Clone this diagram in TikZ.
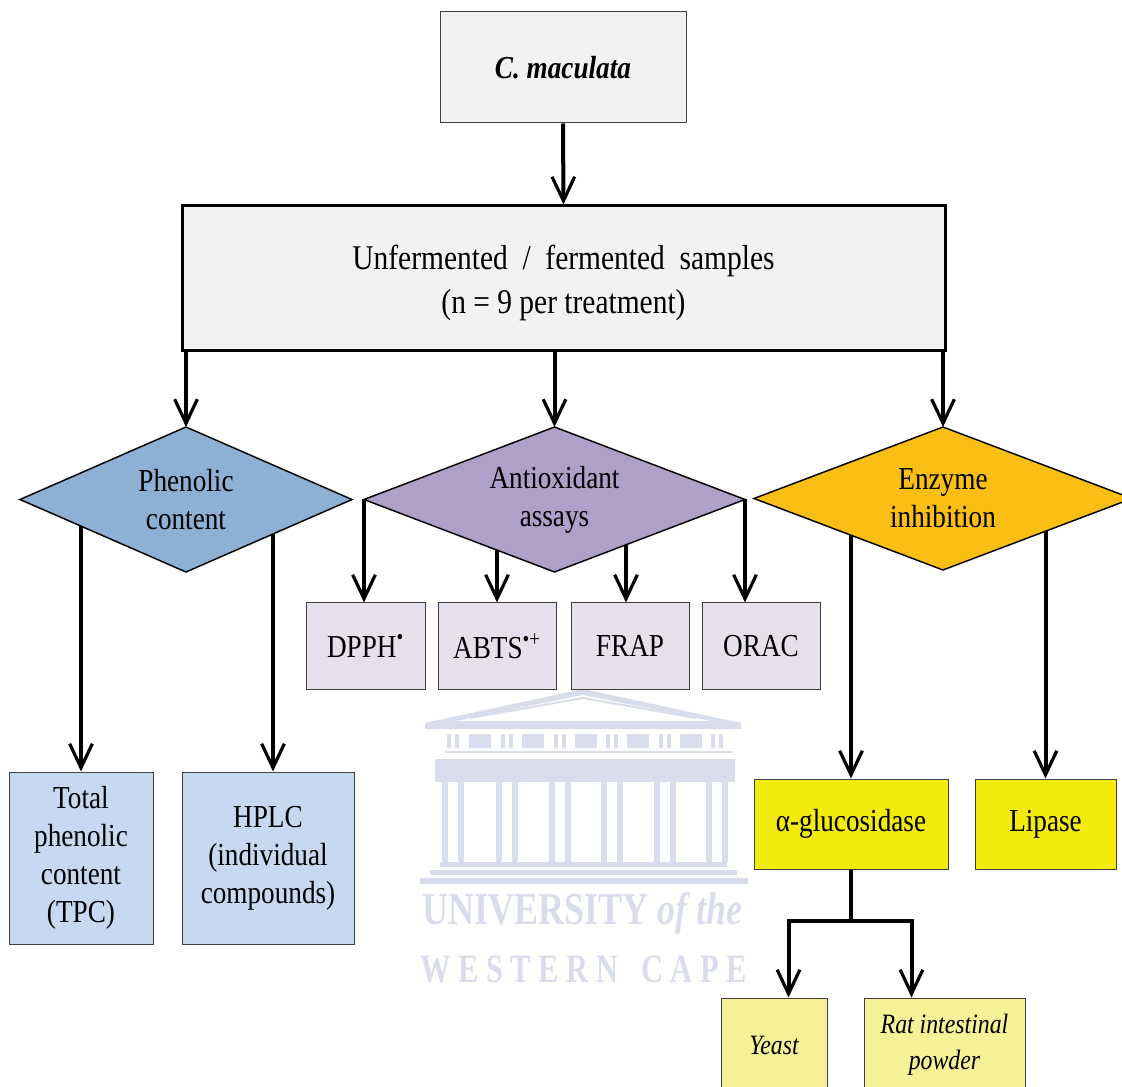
\documentclass[tikz,border=0pt]{standalone}
\usepackage{fontspec}
\setmainfont{Liberation Serif}[FakeStretch=0.85]
\newfontfamily\wmfont{Liberation Serif}
\usetikzlibrary{shapes.geometric,arrows.meta,calc}
\pgfdeclarelayer{wm}
\pgfdeclarelayer{bg}
\pgfsetlayers{wm,bg,main}
\definecolor{grayfill}{HTML}{F2F2F2}
\definecolor{boxline}{HTML}{404040}
\definecolor{phenc}{HTML}{8DB0D5}
\definecolor{antic}{HTML}{AFA0C8}
\definecolor{enzc}{HTML}{FABE14}
\definecolor{lblue}{HTML}{C6D9F0}
\definecolor{lpurple}{HTML}{E5E0EC}
\definecolor{yel}{HTML}{F3EA0E}
\definecolor{pyel}{HTML}{F6F096}
\definecolor{wmc}{HTML}{D8DCEC}
\begin{document}
\begin{tikzpicture}[x=0.75pt,y=-0.75pt,
  txt/.style={font=\fontsize{24pt}{28.5pt}\selectfont, align=center, inner sep=0pt},
  box/.style={txt, draw=boxline, line width=0.75pt},
  dia/.style={txt, diamond, shape aspect=2.6, draw=black, line width=1.1pt, inner sep=0pt, outer sep=0pt},
  arr/.style={line width=3pt, -{Straight Barb[length=18pt,width=17pt,line width=2.4pt]}},
  conn/.style={line width=3pt, line join=miter}
]
\useasboundingbox (0,0) rectangle (1122,1087);
\clip (0,0) rectangle (1122,1087);

% watermark
\begin{pgfonlayer}{wm}
  \fill[wmc] (425,723) -- (583,689) -- (741,723) -- (741,729) -- (425,729) -- cycle;
  \fill[white] (455,721) -- (583,695) -- (711,721) -- cycle;
  \draw[wmc, line width=1.5pt] (470,718) -- (583,698) -- (696,718);
  \foreach \cx in {453,507,560,612,665,717}{
    \fill[wmc] (\cx-6,734) rectangle (\cx-2,748);
    \fill[wmc] (\cx+2,734) rectangle (\cx+6,748);
  }
  \foreach \cx in {480,533,586,638,691}{
    \fill[wmc] (\cx-11,734) rectangle (\cx+11,748);
  }
  \draw[wmc, line width=1.2pt] (445,752) -- (732,752);
  \fill[wmc] (435,759) rectangle (735,782);
  \foreach \cx in {453,507,560,612,665,717}{
    \fill[wmc] (\cx-11,782) rectangle (\cx-5,862);
    \fill[wmc] (\cx+5,782) rectangle (\cx+11,862);
  }
  \fill[wmc] (440,862) rectangle (727,867);
  \fill[wmc] (430,870) rectangle (737,875);
  \fill[wmc] (420,878) rectangle (748,884);
  \node[anchor=south west, inner sep=0pt, text=wmc] (wm1) at (422,934)
    {\resizebox{240pt}{24pt}{\wmfont\bfseries UNIVERSITY \textit{of the}}};
  \node[anchor=south west, inner sep=0pt, text=wmc] (wm2) at (420,983)
    {\resizebox{245pt}{20pt}{\wmfont\bfseries W E S T E R N \ \ C A P E}};
\end{pgfonlayer}

% nodes
\node[box, fill=grayfill, minimum width=184.5pt, minimum height=83.25pt] (cm) at (563,67.5)
  {\textbf{\textit{C. maculata}}};
\node[box, fill=grayfill, draw=black, line width=2.25pt, minimum width=572.25pt, minimum height=108.75pt,
  font=\fontsize{26pt}{33pt}\selectfont] (big) at (563.5,278.5)
  {\raisebox{-3pt}[\height][\depth]{\parbox{500pt}{\centering Unfermented \ / \ fermented \ samples\\(n = 9 per treatment)}}};

\node[dia, fill=phenc, minimum width=249pt, minimum height=108.75pt] (phen) at (186,499.5)
  {Phenolic\\content};
\node[dia, fill=antic, minimum width=285.75pt, minimum height=108.75pt] (anti) at (554.5,499.5)
  {Antioxidant\\assays};
\node[dia, fill=enzc, minimum width=283.5pt, minimum height=107.25pt] (enz) at (943,498.5)
  {Enzyme\\inhibition};

\node[box, fill=lpurple, minimum width=89.25pt, minimum height=64.5pt] (dpph) at (365.5,646)
  {DPPH\textsuperscript{•}};
\node[box, fill=lpurple, minimum width=88.5pt, minimum height=64.5pt] (abts) at (497,646)
  {ABTS\textsuperscript{•+}};
\node[box, fill=lpurple, minimum width=88.5pt, minimum height=64.5pt] (frap) at (630,646)
  {FRAP};
\node[box, fill=lpurple, minimum width=88.5pt, minimum height=64.5pt] (orac) at (761,646)
  {ORAC};

\node[box, fill=lblue, minimum width=108pt, minimum height=129pt] (tpc) at (81,858)
  {Total\\phenolic\\content\\(TPC)};
\node[box, fill=lblue, minimum width=129pt, minimum height=129pt] (hplc) at (268,858)
  {HPLC\\(individual\\compounds)};

\node[box, fill=yel, minimum width=145.5pt, minimum height=67.5pt] (gluc) at (851,824)
  {α-glucosidase};
\node[box, fill=yel, minimum width=105.75pt, minimum height=67.5pt] (lip) at (1045.5,824)
  {Lipase};

\node[box, fill=pyel, minimum width=79.5pt, minimum height=70.5pt,
  font=\fontsize{21pt}{27pt}\selectfont\itshape] (yeast) at (774,1045)
  {Yeast};
\node[box, fill=pyel, minimum width=120.75pt, minimum height=70.5pt,
  font=\fontsize{21pt}{27pt}\selectfont\itshape] (rat) at (944.5,1045)
  {Rat intestinal\\powder};

% connectors
\begin{pgfonlayer}{bg}
  \draw[arr] (cm.south) -- (big.north);
  \draw[arr] (phen.north |- big.south) -- (phen.north);
  \draw[arr] (anti.north |- big.south) -- (anti.north);
  \draw[arr] (enz.north |- big.south) -- (enz.north);

  \draw[arr] (tpc.north |- phen.center) -- (tpc.north);
  \draw[arr] ([xshift=3.75pt]hplc.north |- phen.center) -- ([xshift=3.75pt]hplc.north);

  \draw[arr] (anti.west) -- (anti.west |- dpph.north);
  \draw[arr] (abts.north |- anti.center) -- (abts.north);
  \draw[arr] ([xshift=-3pt]frap.north |- anti.center) -- ([xshift=-3pt]frap.north);
  \draw[arr] (anti.east) -- (anti.east |- orac.north);

  \draw[arr] (gluc.north |- enz.center) -- (gluc.north);
  \draw[arr] (lip.north |- enz.center) -- (lip.north);

  \coordinate (split) at (851,921);
  \draw[conn] (gluc.south) -- (split);
  \draw[arr, line join=miter] (split) -| ([xshift=51pt]yeast.north west);
  \draw[arr, line join=miter] (split) -| ([xshift=36pt]rat.north west);
\end{pgfonlayer}
\end{tikzpicture}
\end{document}
